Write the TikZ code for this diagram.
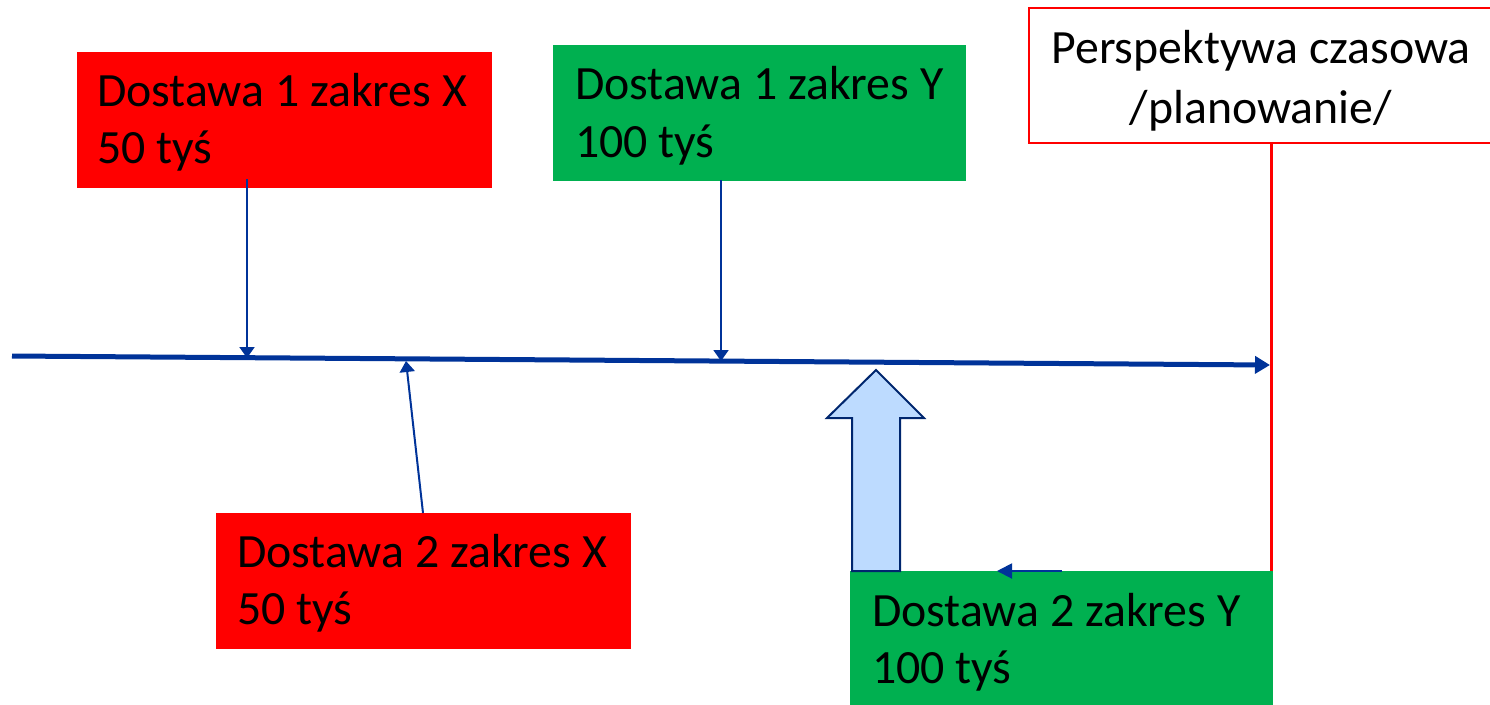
\documentclass[tikz,border=0pt]{standalone}
\usepackage{fontspec}
\setmainfont{Carlito}
\usetikzlibrary{arrows.meta,calc}
\definecolor{boxred}{RGB}{255,0,0}
\definecolor{boxgreen}{RGB}{0,176,80}
\definecolor{lineblue}{RGB}{0,51,153}
\definecolor{arrowfill}{RGB}{189,219,255}
\definecolor{arrowedge}{RGB}{0,38,110}
\tikzset{
  box/.style={inner sep=0pt, outer sep=0pt, anchor=north west, minimum height=2.72cm},
  redbox/.style={box, fill=boxred},
  greenbox/.style={box, fill=boxgreen},
  txt/.style={inner sep=0pt, outer sep=0pt, anchor=base west, font=\fontsize{27.2}{32.4}\selectfont, text=black},
  ctxt/.style={txt, anchor=base},
  timeline/.style={draw=lineblue, line width=0.1cm, -{Triangle[length=0.3cm,width=0.34cm]}},
  thinarrow/.style={draw=lineblue, line width=0.04cm, -{Triangle[length=0.22cm,width=0.3cm]}},
  smallarrow/.style={draw=lineblue, line width=0.04cm, -{Triangle[length=0.3cm,width=0.3cm]}},
  redline/.style={draw=boxred, line width=0.06cm},
  blockarrow/.style={draw=arrowedge, fill=arrowfill, line width=0.04cm, line join=miter}
}
\begin{document}
\begin{tikzpicture}[x=0.02cm, y=-0.02cm]
\useasboundingbox (0,0) rectangle (1490,704);
% boxes
\node[redbox, minimum width=8.30cm] (r1) at (77,52) {};
\node[greenbox, minimum width=8.26cm] (g1) at (553,45) {};
\node[redbox, minimum width=8.30cm] (r2) at (216,513) {};
\node[greenbox, minimum width=8.46cm, minimum height=2.9cm] (g2) at (850,571) {};
\node[box, draw=boxred, fill=white, line width=0.03cm, minimum width=9.26cm, minimum height=2.70cm] (p) at (1029,8) {};
% texts
\node[txt] (r1a) at (97,106) {Dostawa 1 zakres X};
\node[txt] (r1b) at (97,163) {50 tyś};
\node[txt] (g1a) at (575,99) {Dostawa 1 zakres Y};
\node[txt] (g1b) at (575,157) {100 tyś};
\node[txt] (r2a) at (237,567) {Dostawa 2 zakres X};
\node[txt] (r2b) at (237,624) {50 tyś};
\node[txt] (g2a) at (872,626) {Dostawa 2 zakres Y};
\node[txt] (g2b) at (872,683) {100 tyś};
\node[ctxt] (pa) at (1261,63) {Perspektywa czasowa};
\node[ctxt] (pb) at (1261,123) {/planowanie/};
% red vertical line
\coordinate (rtop) at (1271,143);
\draw[redline] (rtop) -- (rtop |- g2.north);
% timeline
\coordinate (tstart) at (12,356);
\coordinate (tend) at (1270,365);
\draw[timeline] (tstart) -- (tend);
% points on timeline
\coordinate (t1) at (247,358);
\coordinate (t2) at (721,361);
\coordinate (t3) at (406,361);
\draw[thinarrow] ($(t1 |- r1.south)+(0,-9)$) -- (t1);
\draw[thinarrow] ($(t2 |- g1.south)+(0,-1)$) -- (t2);
\draw[thinarrow] (423,513 |- r2.north) -- (t3);
% block arrow
\draw[blockarrow] (852,571) -- (852,418) -- (827,418) -- (876,370) -- (924,418) -- (900,418) -- (900,571) -- cycle;
% small arrow on top of g2
\coordinate (s1) at (1062,571);
\coordinate (s2) at (997,571);
\draw[smallarrow] (s1) -- (s2);
\end{tikzpicture}
\end{document}
